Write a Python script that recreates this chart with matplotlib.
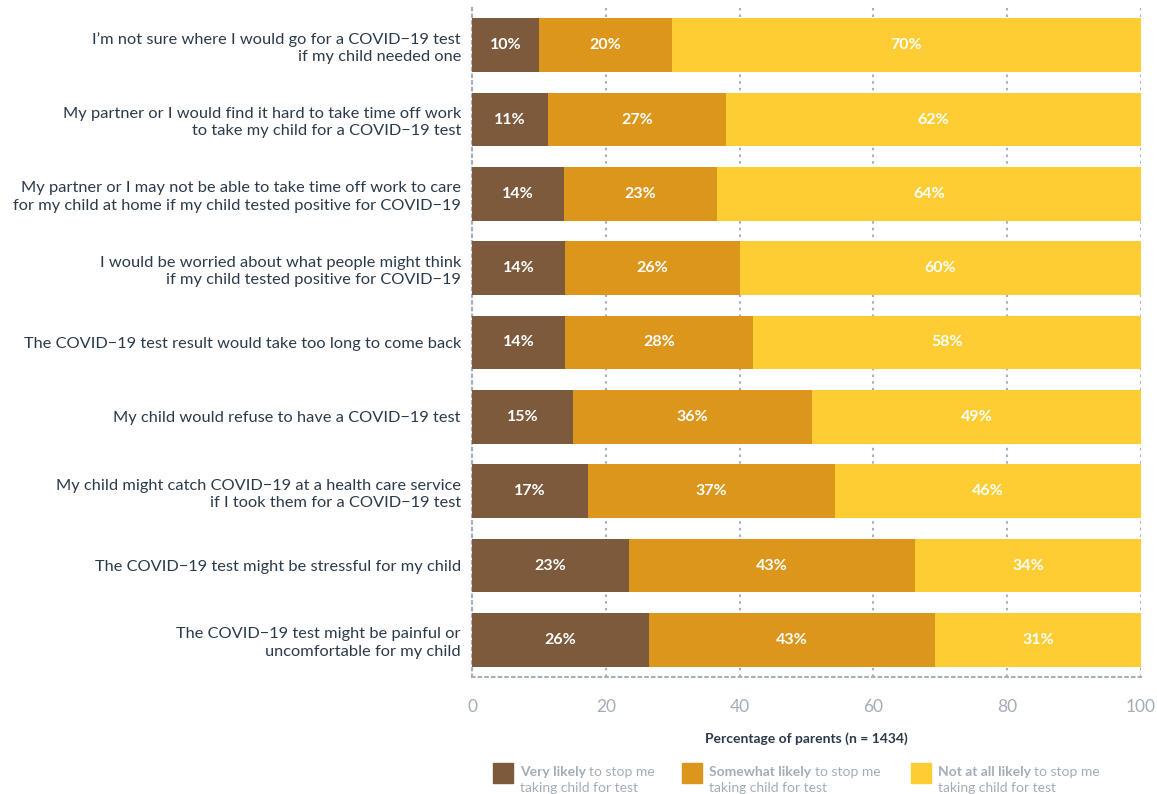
import matplotlib
matplotlib.use('Agg')
import matplotlib.pyplot as plt
from matplotlib.patches import Rectangle
import numpy as np

plt.rcParams['font.family'] = ['Lato', 'DejaVu Sans']

# 数据
reasons = [
    "I\u2019m not sure where I would go for a COVID\u221219 test\nif my child needed one",
    "My partner or I would find it hard to take time off work\nto take my child for a COVID\u221219 test",
    "My partner or I may not be able to take time off work to care\nfor my child at home if my child tested positive for COVID\u221219",
    "I would be worried about what people might think\nif my child tested positive for COVID\u221219",
    "The COVID\u221219 test result would take too long to come back",
    "My child would refuse to have a COVID\u221219 test",
    "My child might catch COVID\u221219 at a health care service\nif I took them for a COVID\u221219 test",
    "The COVID\u221219 test might be stressful for my child",
    "The COVID\u221219 test might be painful or\nuncomfortable for my child",
]
very_likely = [10.0, 11.4, 13.8, 13.9, 13.9, 15.1, 17.3, 23.4, 26.4]
somewhat_likely = [19.9, 26.6, 22.8, 26.2, 28.1, 35.7, 37.0, 42.8, 42.8]
not_at_all = [70.1, 62.0, 63.6, 59.9, 58.0, 49.2, 45.7, 33.8, 30.8]

series = [
    ("Very likely", very_likely, "#7D5A3C"),
    ("Somewhat likely", somewhat_likely, "#DC961C"),
    ("Not at all likely", not_at_all, "#FDCD33"),
]

text_dark = "#2B3A4A"
gray = "#A3ADB7"
grid_gray = "#A5B0BB"

fig = plt.figure(figsize=(11.57, 7.94), dpi=100)
ax = fig.add_axes([472 / 1157, 117 / 794, 669 / 1157, 669 / 794])

y = np.arange(len(reasons))
left = np.zeros(len(reasons))
for name, vals, col in series:
    vals = np.array(vals)
    ax.barh(y, vals, left=left, height=0.72, color=col, zorder=3)
    for yi, l, v in zip(y, left, vals):
        ax.text(l + v / 2, yi, f"{v:.0f}%", ha='center', va='center',
                color='white', fontsize=11.5, fontweight='bold', zorder=4)
    left = left + vals

ax.set_xlim(0, 100)
ax.set_ylim(len(reasons) - 0.5, -0.5)
ax.set_yticks(y)
ax.set_yticklabels(reasons, fontsize=11.8, color=text_dark, linespacing=1.3)
ax.set_xticks([0, 20, 40, 60, 80, 100])
ax.tick_params(axis='x', colors=gray, labelsize=12.5, length=0, pad=16)
ax.tick_params(axis='y', length=0, pad=8)
ax.xaxis.grid(True, linestyle=(0, (1.2, 2.0)), color=grid_gray, linewidth=1.5, zorder=0)
for s in ['top', 'right']:
    ax.spines[s].set_visible(False)
for s in ['left', 'bottom']:
    ax.spines[s].set_linestyle((0, (1.2, 2.0)))
    ax.spines[s].set_color(grid_gray)
    ax.spines[s].set_linewidth(1.5)
ax.set_xlabel("Percentage of parents (n = 1434)", fontsize=10, color=text_dark,
              fontweight='bold', labelpad=12)

# 图例
renderer = fig.canvas.get_renderer()
legend_x = [493, 682, 911]
for (name, vals, col), lx in zip(series, legend_x):
    fig.add_artist(Rectangle((lx / 1157, (794 - 783) / 794), 20 / 1157, 20 / 794,
                             transform=fig.transFigure, color=col))
    tx = (lx + 27) / 1157
    t = fig.text(tx, (794 - 772) / 794, name, fontsize=10, color=gray,
                 fontweight='bold', va='center')
    bb = t.get_window_extent(renderer)
    fig.text(bb.x1 / 1157 + 0.003, (794 - 772) / 794, "to stop me", fontsize=10,
             color=gray, va='center')
    fig.text(tx, (794 - 788) / 794, "taking child for test", fontsize=10,
             color=gray, va='center')

fig.savefig("out.png", dpi=100)
